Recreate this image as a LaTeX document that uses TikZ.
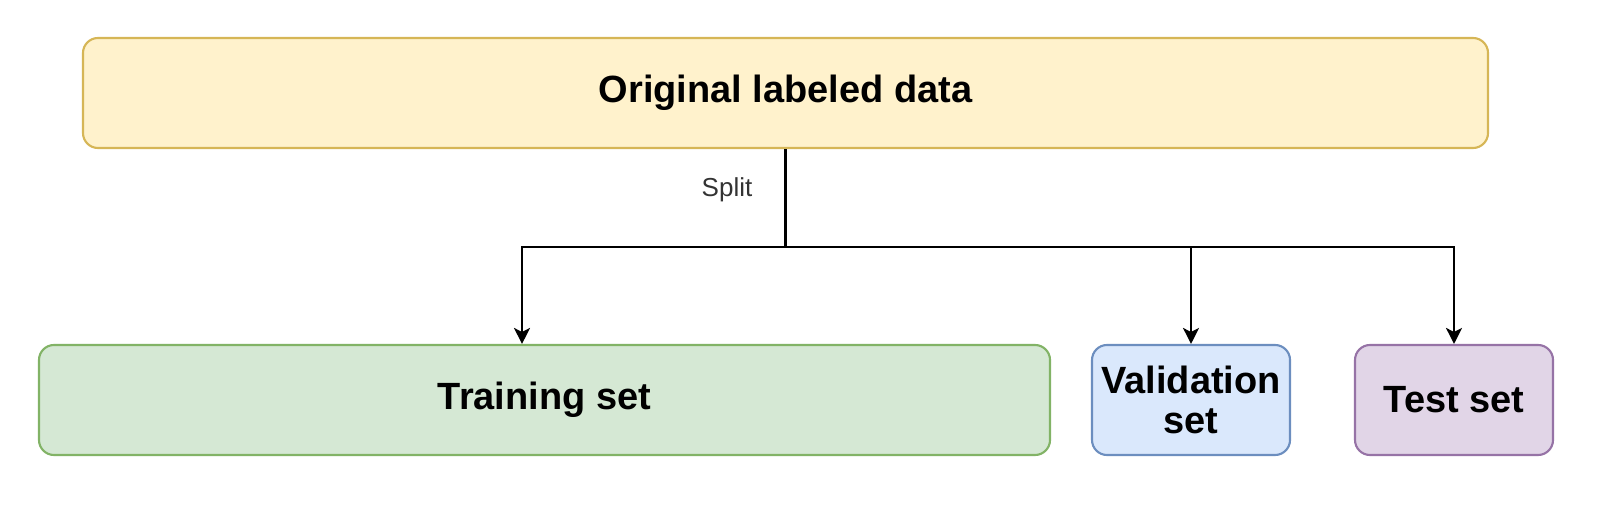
\documentclass[tikz,border=0pt]{standalone}
\usepackage{fontspec}
\setmainfont{Liberation Sans}
\usepackage{tikz}
\usetikzlibrary{arrows.meta}
\definecolor{origfill}{HTML}{FFF2CC}
\definecolor{origline}{HTML}{D6B656}
\definecolor{trainfill}{HTML}{D5E8D4}
\definecolor{trainline}{HTML}{82B366}
\definecolor{validfill}{HTML}{DAE8FC}
\definecolor{validline}{HTML}{6C8EBF}
\definecolor{testfill}{HTML}{E1D5E7}
\definecolor{testline}{HTML}{9673A6}
\tikzset{>=stealth}
\tikzset{
  databox/.style={
    rectangle, rounded corners=0.15cm, line width=0.6pt,
    minimum height=1.1cm, inner sep=0pt, align=center,
    font=\fontsize{10.8}{11.6}\selectfont\bfseries
  }}
\tikzset{
  splitarrow/.style={
    line width=0.6pt,
    -{Stealth[length=1.6mm,width=1.6mm,inset=0.4mm]}
  }}

\begin{document}
\begin{tikzpicture}
    \useasboundingbox (0,0) rectangle (16,5.08);
    \node[databox,fill=origfill,draw=origline,minimum width=14.05cm](orig) at (7.855,4.15) {Original labeled data};
    \node[databox,fill=trainfill,draw=trainline,minimum width=10.11cm](train) at (5.445,1.08) {Training set};
    \node[databox,fill=validfill,draw=validline,minimum width=1.98cm](valid) at (11.91,1.08) {Validation\\set};
    \node[databox,fill=testfill,draw=testline,minimum width=1.98cm](test) at (14.54,1.08) {Test set};
    \coordinate (split) at (orig.south |- 0,2.61);
    \node[text=black!80,font=\fontsize{7.4}{8}\selectfont](splitlabel) at (7.27,3.18) {Split};
    \draw[line width=0.6pt]
	(orig.south) -- (split);
	\draw[splitarrow]
	(split) -| ([xshift=-0.225cm]train.north);
	\draw[splitarrow]
	(split) -| (valid.north);
	\draw[splitarrow]
	(split) -| (test.north);
\end{tikzpicture}
\end{document}
